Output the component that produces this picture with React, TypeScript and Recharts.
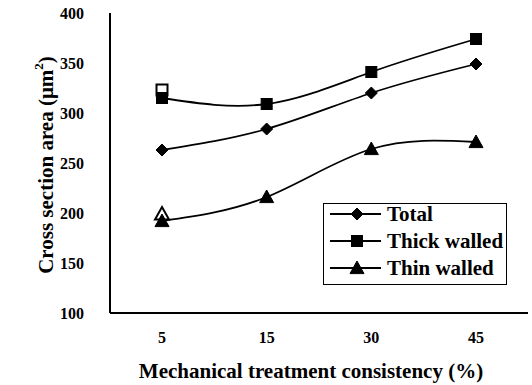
import React from 'react';
import { LineChart, Line, XAxis, YAxis, Legend, Label } from 'recharts';

// ── Data ─────────────────────────────────────────────────────────────────
const consistency = ['5', '15', '30', '45'];
const total = [263, 284, 320, 349];
const thickWalled = [315, 309, 341, 374];
const thinWalled = [192, 216, 264, 271];
// the second (hollow) markers that sit at 5 %
const thickOpen = [323, null, null, null];
const thinOpen = [199, null, null, null];
const yTicks = [100, 150, 200, 250, 300, 350, 400];

const seriesNames = ['Total', 'Thick walled', 'Thin walled'];
const seriesKeys = ['total', 'thick', 'thin'];

const data = consistency.map((c, i) => ({
  c,
  total: total[i],
  thick: thickWalled[i],
  thin: thinWalled[i],
  thickOpen: thickOpen[i],
  thinOpen: thinOpen[i],
}));

const FONT = 'Liberation Serif, Times New Roman, Times, serif';
const INK = '#000';
const TITLE = { fontFamily: FONT, fontSize: 21, fontWeight: 700 };

type Shape = 'diamond' | 'square' | 'triangle';

const SHAPES: Record<string, Shape> = {
  total: 'diamond',
  thick: 'square',
  thin: 'triangle',
};

function Marker({ shape, cx, cy, hollow = false }: { shape: Shape; cx: number; cy: number; hollow?: boolean }) {
  const fill = hollow ? '#fff' : INK;
  const sw = hollow ? 2 : 1;
  if (shape === 'diamond') {
    const r = 6;
    return (
      <polygon
        points={`${cx},${cy - r} ${cx + r},${cy} ${cx},${cy + r} ${cx - r},${cy}`}
        fill={fill}
        stroke={INK}
        strokeWidth={sw}
      />
    );
  }
  if (shape === 'square') {
    const h = 5.5;
    return <rect x={cx - h} y={cy - h} width={h * 2} height={h * 2} fill={fill} stroke={INK} strokeWidth={sw} />;
  }
  const r = 7;
  return (
    <polygon
      points={`${cx},${cy - r} ${cx + r},${cy + r * 0.8} ${cx - r},${cy + r * 0.8}`}
      fill={fill}
      stroke={INK}
      strokeWidth={sw}
    />
  );
}

const dotFor = (shape: Shape, hollow = false) => (props: any) => {
  const { cx, cy, index, value } = props;
  if (value == null || cx == null || cy == null) return <g key={`e-${shape}-${index}`} />;
  return (
    <g key={`${shape}-${hollow ? 'h' : 'f'}-${index}`}>
      <Marker shape={shape} cx={cx} cy={cy} hollow={hollow} />
    </g>
  );
};

// legend drawn in the figure's own order (Total, Thick, Thin)
const LegendBox = () => (
  <div
    style={{
      width: 184,
      height: 82,
      border: '1.5px solid #000',
      boxSizing: 'border-box',
      background: '#fff',
    }}
  >
    <svg width={181} height={79} style={{ display: 'block', overflow: 'visible' }}>
      {seriesKeys.map((key, i) => {
        const y = 10 + i * 27;
        return (
          <g key={key}>
            <line x1={6} x2={57} y1={y} y2={y} stroke={INK} strokeWidth={1.8} />
            <Marker shape={SHAPES[key]} cx={33} cy={y} />
            <text x={63} y={y} dominantBaseline="central" style={TITLE} fill={INK}>
              {seriesNames[i]}
            </text>
          </g>
        );
      })}
    </svg>
  </div>
);

const YTitle = (props: any) => {
  const vb = props.viewBox || { x: 0, y: 0, width: 0, height: 0 };
  const x = vb.x + 46;
  const y = vb.y + vb.height / 2 + 2;
  return (
    <text
      x={x}
      y={y}
      transform={`rotate(-90, ${x}, ${y})`}
      textAnchor="middle"
      dominantBaseline="central"
      style={TITLE}
      fill={INK}
    >
      Cross section area (μm
      <tspan dy={-8} style={{ fontSize: 13 }}>2</tspan>
      <tspan dy={8}>)</tspan>
    </text>
  );
};

const axisLine = { stroke: INK, strokeWidth: 2 };
const tickStyle = { fill: INK, fontSize: 16, fontWeight: 700, fontFamily: FONT, style: { fontFamily: FONT } };

export default function App() {
  return (
    <div style={{ position: 'absolute', left: 0, top: 0, width: 532, height: 385, background: '#fff', fontFamily: FONT }}>
      <LineChart width={532} height={385} data={data} margin={{ top: 13, right: 4, bottom: 0, left: 0 }}>
        <XAxis
          xAxisId="b"
          dataKey="c"
          height={72}
          padding={{ left: 52, right: 52 }}
          axisLine={axisLine}
          tickLine={false}
          tickSize={0}
          tickMargin={19}
          tick={tickStyle}
        >
          <Label
            value="Mechanical treatment consistency (%)"
            position="insideBottom"
            offset={7}
            dx={-8}
            fill={INK}
            style={TITLE}
          />
        </XAxis>
        <XAxis
          xAxisId="t"
          dataKey="c"
          orientation="top"
          height={0}
          padding={{ left: 52, right: 52 }}
          tick={false}
          tickLine={false}
          axisLine={axisLine}
        />
        <YAxis
          yAxisId="l"
          width={110}
          domain={[100, 400]}
          ticks={yTicks}
          interval={0}
          axisLine={axisLine}
          tickLine={false}
          tickSize={0}
          tickMargin={26}
          tick={tickStyle}
        >
          <Label content={YTitle} />
        </YAxis>
        <YAxis
          yAxisId="r"
          orientation="right"
          width={0}
          domain={[100, 400]}
          tick={false}
          tickLine={false}
          axisLine={axisLine}
        />
        <Legend
          layout="vertical"
          align="center"
          verticalAlign="middle"
          wrapperStyle={{ position: 'absolute', left: 323, top: 203, width: 184, height: 82 }}
          content={LegendBox}
        />
        {/* hollow duplicates at 5 %, drawn underneath the filled markers */}
        <Line
          xAxisId="b"
          yAxisId="l"
          dataKey="thickOpen"
          stroke="none"
          legendType="none"
          dot={dotFor('square', true)}
          isAnimationActive={false}
        />
        <Line
          xAxisId="b"
          yAxisId="l"
          dataKey="thinOpen"
          stroke="none"
          legendType="none"
          dot={dotFor('triangle', true)}
          isAnimationActive={false}
        />
        <Line
          xAxisId="b"
          yAxisId="l"
          type="natural"
          dataKey="total"
          name={seriesNames[0]}
          stroke={INK}
          strokeWidth={1.8}
          dot={dotFor('diamond')}
          isAnimationActive={false}
        />
        <Line
          xAxisId="b"
          yAxisId="l"
          type="natural"
          dataKey="thick"
          name={seriesNames[1]}
          stroke={INK}
          strokeWidth={1.8}
          dot={dotFor('square')}
          isAnimationActive={false}
        />
        <Line
          xAxisId="b"
          yAxisId="l"
          type="natural"
          dataKey="thin"
          name={seriesNames[2]}
          stroke={INK}
          strokeWidth={1.8}
          dot={dotFor('triangle')}
          isAnimationActive={false}
        />
      </LineChart>
    </div>
  );
}
